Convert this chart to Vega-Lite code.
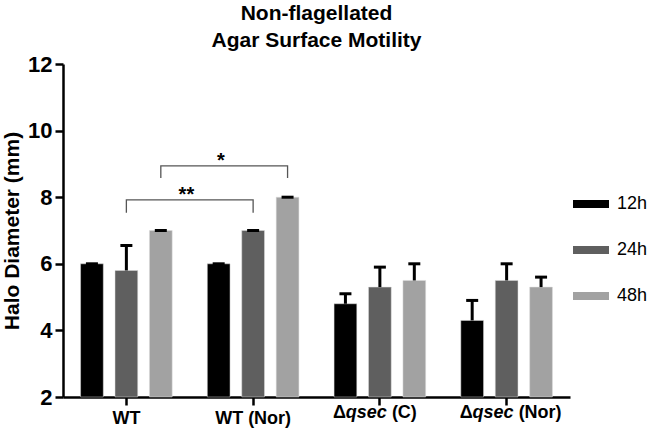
{
  "$schema": "https://vega.github.io/schema/vega-lite/v6.json",
  "width": 507,
  "height": 333,
  "autosize": "none",
  "padding": {"left": 63, "top": 64, "right": 79, "bottom": 36},
  "title": {
    "text": ["Non-flagellated", "Agar Surface Motility"],
    "font": "Liberation Sans",
    "fontSize": 21,
    "fontWeight": "bold",
    "lineHeight": 27,
    "anchor": "middle",
    "offset": 2,
    "color": "#000000"
  },
  "config": {
    "view": {"stroke": null},
    "font": "Liberation Sans"
  },
  "datasets": {
    "bars": [
      {"group": "WT", "time": "12h", "value": 6.0, "hi": 6.0},
      {"group": "WT", "time": "24h", "value": 5.8, "hi": 6.55},
      {"group": "WT", "time": "48h", "value": 7.0, "hi": 7.0},
      {"group": "WT (Nor)", "time": "12h", "value": 6.0, "hi": 6.0},
      {"group": "WT (Nor)", "time": "24h", "value": 7.0, "hi": 7.0},
      {"group": "WT (Nor)", "time": "48h", "value": 8.0, "hi": 8.0},
      {"group": "Δqsec (C)", "time": "12h", "value": 4.8, "hi": 5.1},
      {"group": "Δqsec (C)", "time": "24h", "value": 5.3, "hi": 5.9},
      {"group": "Δqsec (C)", "time": "48h", "value": 5.5, "hi": 6.0},
      {"group": "Δqsec (Nor)", "time": "12h", "value": 4.3, "hi": 4.9},
      {"group": "Δqsec (Nor)", "time": "24h", "value": 5.5, "hi": 6.0},
      {"group": "Δqsec (Nor)", "time": "48h", "value": 5.3, "hi": 5.6}
    ],
    "brackets": [
      {"id": "a", "o": 1, "group": "WT", "time": "24h", "y": 7.53},
      {"id": "a", "o": 2, "group": "WT", "time": "24h", "y": 7.92},
      {"id": "a", "o": 3, "group": "WT (Nor)", "time": "24h", "y": 7.92},
      {"id": "a", "o": 4, "group": "WT (Nor)", "time": "24h", "y": 7.53},
      {"id": "b", "o": 1, "group": "WT", "time": "48h", "y": 8.58},
      {"id": "b", "o": 2, "group": "WT", "time": "48h", "y": 8.94},
      {"id": "b", "o": 3, "group": "WT (Nor)", "time": "48h", "y": 8.94},
      {"id": "b", "o": 4, "group": "WT (Nor)", "time": "48h", "y": 8.58}
    ],
    "stars": [
      {"group": "WT", "time": "24h", "y": 7.88, "label": "**"},
      {"group": "WT", "time": "48h", "y": 8.9, "label": "*"}
    ],
    "xlab": [
      {"group": "Δqsec (C)", "time": "24h", "y": 1.52, "pre": "Δ", "it": "qsec", "post": "(C)"},
      {"group": "Δqsec (Nor)", "time": "24h", "y": 1.52, "pre": "Δ", "it": "qsec", "post": "(Nor)"}
    ]
  },
  "layer": [
    {
      "data": {"name": "bars"},
      "mark": {"type": "bar", "stroke": "#dddddd", "strokeWidth": 0.5},
      "encoding": {
        "x": {
          "field": "group", "type": "nominal",
          "sort": ["WT", "WT (Nor)", "Δqsec (C)", "Δqsec (Nor)"],
          "scale": {"paddingInner": 0, "paddingOuter": 0},
          "axis": {
            "title": null,
            "labelAngle": 0,
            "labelFont": "Liberation Sans",
            "labelFontSize": 18,
            "labelFontWeight": "bold",
            "labelColor": "#000000",
            "labelPadding": 4,
            "labelExpr": "indexof(datum.label, 'Δ') >= 0 ? '' : datum.label",
            "domainColor": "#000000",
            "domainWidth": 2.5,
            "tickColor": "#000000",
            "tickWidth": 2.5,
            "tickSize": 8
          }
        },
        "xOffset": {
          "field": "time", "type": "nominal",
          "scale": {"paddingInner": 0.34, "paddingOuter": 0.51}
        },
        "y": {
          "field": "value", "type": "quantitative",
          "scale": {"domain": [2, 12], "zero": false, "nice": false},
          "axis": {
            "title": "Halo Diameter (mm)",
            "titleFont": "Liberation Sans",
            "titleFontSize": 21,
            "titleFontWeight": "bold",
            "titleColor": "#000000",
            "titlePadding": 5,
            "values": [2, 4, 6, 8, 10, 12],
            "grid": false,
            "labelFont": "Liberation Sans",
            "labelFontSize": 22,
            "labelFontWeight": "bold",
            "labelColor": "#000000",
            "labelPadding": 3,
            "domainColor": "#000000",
            "domainWidth": 2.5,
            "tickColor": "#000000",
            "tickWidth": 2.5,
            "tickSize": 8
          }
        },
        "y2": {"datum": 2},
        "color": {
          "field": "time", "type": "nominal",
          "scale": {"domain": ["12h", "24h", "48h"], "range": ["#000000", "#5f5f5f", "#a2a2a2"]},
          "legend": {
            "title": null,
            "orient": "none",
            "legendX": 510,
            "legendY": 122,
            "symbolType": "M-1,-0.22L1,-0.22L1,0.22L-1,0.22Z",
            "symbolSize": 1296,
            "symbolStrokeWidth": 0,
            "labelFont": "Liberation Sans",
            "labelFontSize": 18,
            "labelColor": "#000000",
            "labelOffset": 8,
            "rowPadding": 19
          }
        }
      }
    },
    {
      "data": {"name": "bars"},
      "mark": {"type": "rule", "color": "#000000", "strokeWidth": 3},
      "encoding": {
        "x": {"field": "group", "type": "nominal", "sort": ["WT", "WT (Nor)", "Δqsec (C)", "Δqsec (Nor)"]},
        "xOffset": {"field": "time", "type": "nominal"},
        "y": {"field": "value", "type": "quantitative"},
        "y2": {"field": "hi"}
      }
    },
    {
      "data": {"name": "bars"},
      "mark": {"type": "tick", "color": "#000000", "thickness": 3, "size": 12, "orient": "horizontal", "opacity": 1},
      "encoding": {
        "x": {"field": "group", "type": "nominal", "sort": ["WT", "WT (Nor)", "Δqsec (C)", "Δqsec (Nor)"]},
        "xOffset": {"field": "time", "type": "nominal"},
        "y": {"field": "hi", "type": "quantitative"}
      }
    },
    {
      "data": {"name": "brackets"},
      "mark": {"type": "line", "color": "#555555", "strokeWidth": 1.3},
      "encoding": {
        "x": {"field": "group", "type": "nominal", "sort": ["WT", "WT (Nor)", "Δqsec (C)", "Δqsec (Nor)"]},
        "xOffset": {"field": "time", "type": "nominal"},
        "y": {"field": "y", "type": "quantitative"},
        "detail": {"field": "id"},
        "order": {"field": "o", "type": "quantitative"}
      }
    },
    {
      "data": {"name": "stars"},
      "mark": {"type": "text", "font": "Liberation Sans", "fontSize": 20, "fontWeight": "bold", "color": "#000000", "baseline": "alphabetic", "align": "center", "dx": 60},
      "encoding": {
        "x": {"field": "group", "type": "nominal", "sort": ["WT", "WT (Nor)", "Δqsec (C)", "Δqsec (Nor)"]},
        "xOffset": {"field": "time", "type": "nominal"},
        "y": {"field": "y", "type": "quantitative"},
        "text": {"field": "label"}
      }
    },
    {
      "data": {"name": "xlab"},
      "mark": {"type": "text", "font": "Liberation Sans", "fontSize": 18, "fontWeight": "bold", "color": "#000000", "baseline": "middle", "align": "right", "dx": -34},
      "encoding": {
        "x": {"field": "group", "type": "nominal", "sort": ["WT", "WT (Nor)", "Δqsec (C)", "Δqsec (Nor)"]},
        "xOffset": {"field": "time", "type": "nominal"},
        "y": {"field": "y", "type": "quantitative"},
        "text": {"field": "pre"}
      }
    },
    {
      "data": {"name": "xlab"},
      "mark": {"type": "text", "font": "Liberation Sans", "fontSize": 18, "fontWeight": "bold", "fontStyle": "italic", "color": "#000000", "baseline": "middle", "align": "right", "dx": 7},
      "encoding": {
        "x": {"field": "group", "type": "nominal", "sort": ["WT", "WT (Nor)", "Δqsec (C)", "Δqsec (Nor)"]},
        "xOffset": {"field": "time", "type": "nominal"},
        "y": {"field": "y", "type": "quantitative"},
        "text": {"field": "it"}
      }
    },
    {
      "data": {"name": "xlab"},
      "mark": {"type": "text", "font": "Liberation Sans", "fontSize": 18, "fontWeight": "bold", "color": "#000000", "baseline": "middle", "align": "left", "dx": 12},
      "encoding": {
        "x": {"field": "group", "type": "nominal", "sort": ["WT", "WT (Nor)", "Δqsec (C)", "Δqsec (Nor)"]},
        "xOffset": {"field": "time", "type": "nominal"},
        "y": {"field": "y", "type": "quantitative"},
        "text": {"field": "post"}
      }
    }
  ]
}
